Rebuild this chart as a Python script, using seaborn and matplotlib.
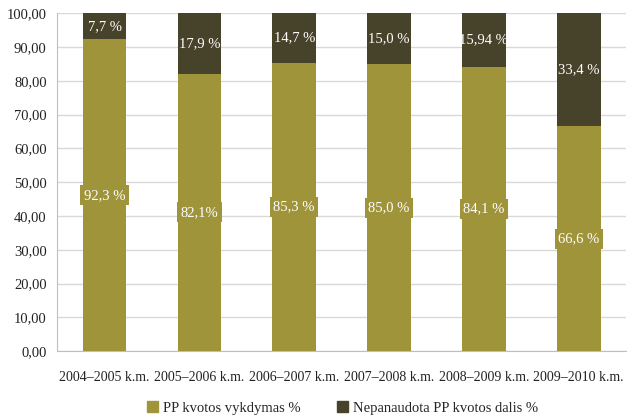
import numpy as np
import pandas as pd
import seaborn as sns
import matplotlib.pyplot as plt
from matplotlib.patches import Patch

# data
years = ["2004–2005 k.m.", "2005–2006 k.m.", "2006–2007 k.m.",
         "2007–2008 k.m.", "2008–2009 k.m.", "2009–2010 k.m."]
vykdymas = [92.3, 82.1, 85.3, 85.0, 84.1, 66.6]
nepanaudota = [7.7, 17.9, 14.7, 15.0, 15.94, 33.4]
vykdymas_txt = ["92,3 %", "82,1%", "85,3 %", "85,0 %", "84,1 %", "66,6 %"]
nepanaudota_txt = ["7,7 %", "17,9 %", "14,7 %", "15,0 %", "15,94 %", "33,4 %"]

olive = "#A0943A"
dark = "#47422A"

df = pd.DataFrame({"year": years, "pp": vykdymas, "rest": nepanaudota})
df["total"] = (df["pp"] + df["rest"]).clip(upper=100)

sns.set_style("white")
plt.rcParams["font.family"] = ["Liberation Serif", "DejaVu Serif"]

fig = plt.figure(figsize=(6.28, 4.15), dpi=100)
ax = fig.add_axes([0.091, 0.154, 0.906, 0.814])

sns.barplot(data=df, x="year", y="total", color=dark, width=0.46,
            saturation=1, linewidth=0, ax=ax, zorder=2)
sns.barplot(data=df, x="year", y="pp", color=olive, width=0.46,
            saturation=1, linewidth=0, ax=ax, zorder=3)

for i in range(len(years)):
    ax.text(i, vykdymas[i] / 2, vykdymas_txt[i], ha="center", va="center",
            color="white", fontsize=10.5, zorder=5,
            bbox=dict(facecolor=olive, edgecolor="none", pad=2.5))
    ax.text(i, vykdymas[i] + (df["total"][i] - vykdymas[i]) / 2,
            nepanaudota_txt[i], ha="center", va="center",
            color="white", fontsize=10.5, zorder=5)

ax.set_ylim(0, 100)
ax.set_xlim(-0.5, len(years) - 0.5)
ax.set_yticks(np.arange(0, 101, 10))
ax.set_yticklabels([f"{v:.2f}".replace(".", ",") for v in np.arange(0, 101, 10)])
ax.yaxis.grid(True, color="#D9D9D9", linewidth=1, zorder=0)
ax.set_axisbelow(True)
ax.set_xlabel("")
ax.set_ylabel("")

ax.set_xticks(np.arange(-0.5, len(years)), minor=True)
ax.tick_params(axis="x", which="major", length=0, pad=14, labelsize=10,
               colors="#222222")
ax.tick_params(axis="x", which="minor", length=5, color="#BFBFBF")
ax.tick_params(axis="y", length=4, color="#BFBFBF", labelsize=10.5,
               colors="#222222")
for s in ["top", "right"]:
    ax.spines[s].set_visible(False)
for s in ["left", "bottom"]:
    ax.spines[s].set_color("#BFBFBF")

handles = [Patch(color=olive, label="PP kvotos vykdymas %"),
           Patch(color=dark, label="Nepanaudota PP kvotos dalis %")]
fig.legend(handles=handles, loc="center", bbox_to_anchor=(0.545, 0.017),
           ncol=2, frameon=False, fontsize=10.5, handlelength=0.8,
           handleheight=0.8, handletextpad=0.3, columnspacing=2.5)

fig.savefig("out.png", dpi=100)
